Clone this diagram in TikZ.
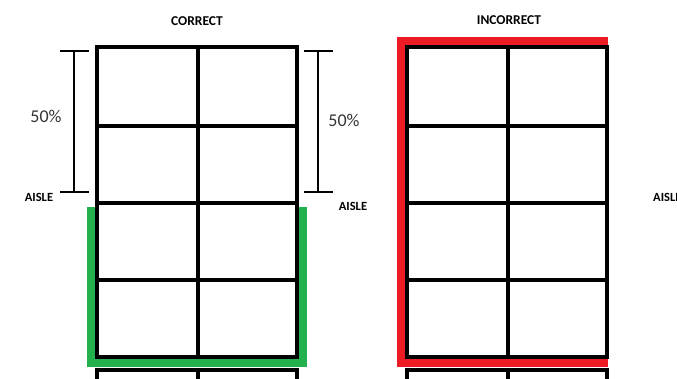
\documentclass[tikz,border=0pt]{standalone}
\usepackage{fontspec}
\setmainfont{Carlito}
\usetikzlibrary{arrows.meta}

\begin{document}
\begin{tikzpicture}[x=1pt, y=-1pt,
  rack/.style={line width=4.5pt},
  green band/.style={line width=10pt, draw={rgb,255:red,34;green,177;blue,76}},
  red band/.style={line width=10pt, draw={rgb,255:red,237;green,28;blue,36}},
  head/.style={font=\bfseries\fontsize{13.5}{15}\selectfont, inner sep=0pt},
  aisle/.style={font=\bfseries\fontsize{12.5}{14}\selectfont, inner sep=0pt},
  pct/.style={font=\fontsize{18}{20}\selectfont, text=black!80, inner sep=0pt},
  dim/.style={{Bar[width=29pt]}-{Bar[width=29pt]}, line width=2pt}]

  \clip (0,0) rectangle (677,379);
  \fill[white] (0,0) rectangle (677,379);

  % highlight bands (under the racks)
  \draw[green band] (92,207) -- (92,362) -- (302,362) -- (302,207);
  \draw[red band] (608,42) -- (402,42) -- (402,362) -- (608,362);

  % racks, correct and incorrect
  \foreach \ox in {0,310} {
    \draw[rack] (97+\ox,47) rectangle (297+\ox,357);
    \draw[rack] (198+\ox,47) -- (198+\ox,357);
    \foreach \y in {126,203,280}
      \draw[rack] (97+\ox,\y) -- (297+\ox,\y);
    % next rack below
    \draw[rack] (97+\ox,390) -- (97+\ox,370) -- (297+\ox,370) -- (297+\ox,390);
    \draw[rack] (198+\ox,370) -- (198+\ox,390);
  }

  % titles
  \node[head] (title-ok) at (197,21) {CORRECT};
  \node[head] (title-bad) at (509,20) {INCORRECT};

  % half-depth markers
  \coordinate (dim-l-top) at (74,50);
  \coordinate (dim-l-bot) at (74,193);
  \coordinate (dim-r-top) at (318,50);
  \coordinate (dim-r-bot) at (318,193);
  \draw[dim] (dim-l-top) -- (dim-l-bot);
  \draw[dim] (dim-r-top) -- (dim-r-bot);
  \node[pct] (pct-l) at (46,116) {50\%};
  \node[pct] (pct-r) at (344,120) {50\%};

  % aisles
  \node[aisle] (aisle-l) at (39,197) {AISLE};
  \node[aisle] (aisle-m) at (353,206) {AISLE};
  \node[aisle, anchor=west] (aisle-r) at (653,197) {AISLE};
\end{tikzpicture}
\end{document}
